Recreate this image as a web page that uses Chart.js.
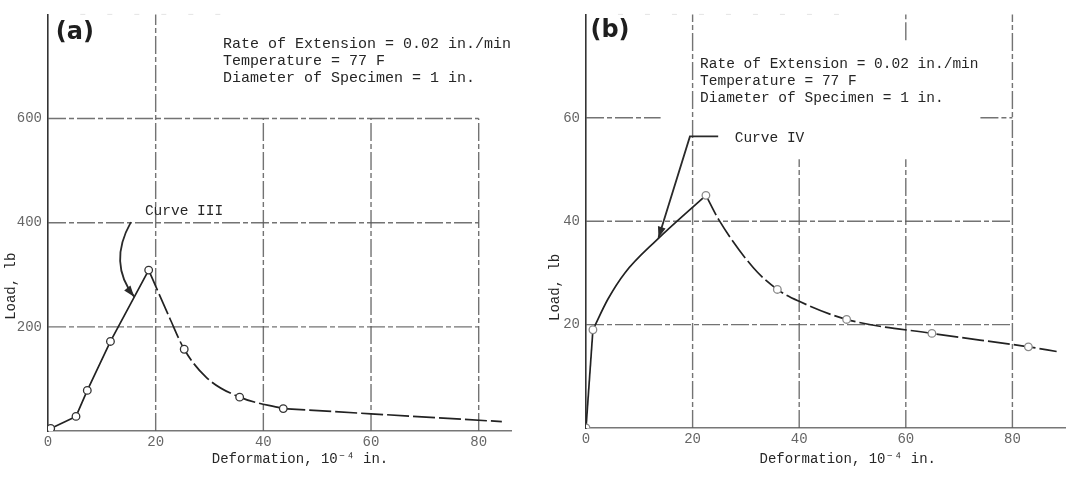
<!DOCTYPE html>
<html>
<head>
<meta charset="utf-8">
<script src="https://cdn.jsdelivr.net/npm/chart.js@4.4.0/dist/chart.umd.min.js"></script>
<style>
  html, body { margin: 0; padding: 0; background: #fff; }
  #wrap { position: relative; width: 1071px; height: 479px; overflow: hidden; }
  #panel-a { position: absolute; left: 0; top: 0; }
  #panel-b { position: absolute; left: 535px; top: 0; }
</style>
</head>
<body>
<div id="wrap">
  <canvas id="panel-a" width="535" height="479"></canvas>
  <canvas id="panel-b" width="536" height="479"></canvas>
</div>
<script>
// tick labels
const X_TICKS = [0, 20, 40, 60, 80];
const Y_TICKS_A = [200, 400, 600];
const Y_TICKS_B = [20, 40, 60];

// (a) Curve III - deformation (1e-4 in.) vs load (lb)
const stemA_x = [0.5, 5.2];
const stemA_y = [5, 28];
const riseA_x = [5.2, 7.3, 11.6, 18.7];
const riseA_y = [28, 78, 172, 309];
const fallA_x = [18.7, 22.6, 25.3, 29.4, 35.6, 43.7];
const fallA_y = [309, 217, 157, 103, 65, 43];
const tailA_x = [43.7, 60, 84.3];
const tailA_y = [43, 33, 18];
const dotsA_x = [0.5, 5.2, 7.3, 11.6, 18.7, 25.3, 35.6, 43.7];
const dotsA_y = [5, 28, 78, 172, 309, 157, 65, 43];

// (b) Curve IV
const stemB_x = [0, 1.3];
const stemB_y = [0, 19];
const riseB_x = [1.3, 4.1, 7.3, 13.2, 22.5];
const riseB_y = [19, 24.9, 30, 36.3, 45];
const fallB_x = [22.5, 24.9, 31.4, 35.9, 40, 48.9, 64.9, 83, 88.3];
const fallB_y = [45, 40.3, 31, 26.8, 24.5, 21, 18.3, 15.7, 14.8];
const tailB_x = [];
const tailB_y = [];
const dotsB_x = [0, 1.3, 22.5, 35.9, 48.9, 64.9, 83];
const dotsB_y = [0, 19, 45, 26.8, 21, 18.3, 15.7];

const INFO = ['Rate of Extension = 0.02 in./min', 'Temperature = 77 F', 'Diameter of Specimen = 1 in.'];
const X_TITLE = 'Deformation, 10\u207B\u2074 in.';
const Y_TITLE = 'Load, lb';

const MONO = '"Liberation Mono", "DejaVu Sans Mono", monospace';

function pts(xs, ys) { return xs.map((x, i) => ({ x: x, y: ys[i] })); }

function arrowHead(ctx, fx, fy, tx, ty) {
  const a = Math.atan2(ty - fy, tx - fx);
  const len = 11, w = 4;
  ctx.beginPath();
  ctx.moveTo(tx, ty);
  ctx.lineTo(tx - len * Math.cos(a) + w * Math.sin(a), ty - len * Math.sin(a) - w * Math.cos(a));
  ctx.lineTo(tx - len * Math.cos(a) - w * Math.sin(a), ty - len * Math.sin(a) + w * Math.cos(a));
  ctx.closePath();
  ctx.fill();
}

// draws the partial grid, the notes, the leader arrows and the axis titles
function sketch(cfg) {
  return {
    id: 'sketch',
    beforeDatasetsDraw(chart) {
      const ctx = chart.ctx, sx = chart.scales.x, sy = chart.scales.y;
      ctx.save();
      cfg.grid.forEach(g => {
        ctx.strokeStyle = g.faint ? 'rgba(150,150,150,0.25)' : 'rgba(90,90,90,0.85)';
        ctx.lineWidth = g.faint ? 1 : 1.4;
        ctx.setLineDash(g.faint ? [5, 22] : [18, 3, 5, 3]);
        ctx.beginPath();
        if (g.x !== undefined) {
          const px = sx.getPixelForValue(g.x);
          ctx.moveTo(px, sy.getPixelForValue(g.from));
          ctx.lineTo(px, sy.getPixelForValue(g.to));
        } else {
          const py = sy.getPixelForValue(g.y);
          ctx.moveTo(sx.getPixelForValue(g.from), py);
          ctx.lineTo(sx.getPixelForValue(g.to), py);
        }
        ctx.stroke();
      });
      ctx.restore();
    },
    afterDatasetsDraw(chart) {
      const ctx = chart.ctx, sx = chart.scales.x, sy = chart.scales.y;
      const P = p => [sx.getPixelForValue(p[0]), sy.getPixelForValue(p[1])];
      ctx.save();
      ctx.strokeStyle = '#2a2a2a';
      ctx.fillStyle = '#2a2a2a';
      ctx.lineWidth = 1.8;
      cfg.arrows.forEach(a => {
        const q = a.pts.map(P);
        ctx.beginPath();
        ctx.moveTo(q[0][0], q[0][1]);
        if (a.curve) ctx.quadraticCurveTo(q[1][0], q[1][1], q[2][0], q[2][1]);
        else q.slice(1).forEach(p => ctx.lineTo(p[0], p[1]));
        ctx.stroke();
        const n = q.length;
        arrowHead(ctx, q[n - 2][0], q[n - 2][1], q[n - 1][0], q[n - 1][1]);
      });
      cfg.texts.forEach(t => {
        const [px, py] = P(t.at);
        ctx.save();
        ctx.translate(px, py);
        if (t.rotate) ctx.rotate(t.rotate);
        ctx.font = t.font;
        ctx.fillStyle = t.color || '#262626';
        ctx.textAlign = t.align || 'left';
        ctx.textBaseline = 'middle';
        ctx.fillText(t.text, 0, 0);
        ctx.restore();
      });
      ctx.restore();
    }
  };
}

function curve(data, extra) {
  return Object.assign({
    data: data,
    showLine: true,
    borderColor: '#222',
    borderWidth: 1.7,
    pointRadius: 0
  }, extra);
}

function makePanel(id, o) {
  const fixed = (list) => (s) => { s.ticks = list.map(v => ({ value: v })); };
  new Chart(document.getElementById(id), {
    type: 'scatter',
    data: {
      datasets: [
        {
          data: pts(o.dotsX, o.dotsY),
          showLine: false,
          pointRadius: 3.8,
          pointBackgroundColor: '#fff',
          pointBorderColor: o.dotColor,
          pointBorderWidth: 1.3
        },
        curve(pts(o.stemX, o.stemY), { tension: 0 }),
        curve(pts(o.riseX, o.riseY), o.riseSmooth ? { cubicInterpolationMode: 'monotone' } : { tension: 0 }),
        curve(pts(o.fallX, o.fallY), { borderDash: [22, 4], cubicInterpolationMode: 'monotone' }),
        curve(pts(o.tailX, o.tailY), { borderDash: [22, 4], tension: 0 })
      ]
    },
    options: {
      responsive: false,
      animation: false,
      devicePixelRatio: 1,
      events: [],
      layout: { padding: o.pad },
      plugins: { legend: { display: false }, tooltip: { enabled: false } },
      scales: {
        x: {
          type: 'linear', min: 0, max: o.xMax,
          afterBuildTicks: fixed(X_TICKS),
          afterFit: s => { s.height = o.xH; },
          grid: { display: false, drawTicks: false },
          border: { display: true, color: '#777', width: 1.4 },
          ticks: { color: '#666', padding: 3, font: { family: MONO, size: 14 } }
        },
        y: {
          type: 'linear', min: 0, max: o.yMax,
          afterBuildTicks: fixed(o.yTicks),
          afterFit: s => { s.width = o.yW; },
          grid: { display: false, drawTicks: false },
          border: { display: true, color: '#333', width: 1.6 },
          ticks: { color: '#666', padding: 6, font: { family: MONO, size: 14 } }
        }
      }
    },
    plugins: [sketch(o.sketch)]
  });
}

makePanel('panel-a', {
  stemX: stemA_x, stemY: stemA_y,
  riseX: riseA_x, riseY: riseA_y, fallX: fallA_x, fallY: fallA_y,
  tailX: tailA_x, tailY: tailA_y,
  dotsX: dotsA_x, dotsY: dotsA_y, dotColor: '#333', riseSmooth: false,
  xMax: 86, yMax: 800, yTicks: Y_TICKS_A,
  pad: { left: 0, right: 24, top: 10, bottom: 0 }, xH: 48, yW: 48,
  sketch: {
    grid: [
      { x: 20, from: 0, to: 800 }, { x: 40, from: 0, to: 600 },
      { x: 60, from: 0, to: 600 }, { x: 80, from: 0, to: 600 },
      { y: 200, from: 0, to: 80 }, { y: 400, from: 0, to: 80 }, { y: 600, from: 0, to: 80 },
      { y: 800, from: 6, to: 36, faint: true }
    ],
    arrows: [{ curve: true, pts: [[15.4, 401], [11.1, 322], [16.0, 258]] }],
    texts: [
      { text: '(a)', at: [5.0, 764], font: 'bold 24px "DejaVu Sans"', align: 'center', color: '#1e1e1e' },
      { text: INFO[0], at: [32.5, 743], font: '15px ' + MONO },
      { text: INFO[1], at: [32.5, 710], font: '15px ' + MONO },
      { text: INFO[2], at: [32.5, 677], font: '15px ' + MONO },
      { text: 'Curve III', at: [18.0, 423], font: '14.5px ' + MONO },
      { text: X_TITLE, at: [46.8, -55], font: '14px ' + MONO, align: 'center' },
      { text: Y_TITLE, at: [-6.75, 278], font: '14px ' + MONO, align: 'center', rotate: -Math.PI / 2 }
    ]
  }
});

makePanel('panel-b', {
  stemX: stemB_x, stemY: stemB_y,
  riseX: riseB_x, riseY: riseB_y, fallX: fallB_x, fallY: fallB_y,
  tailX: tailB_x, tailY: tailB_y,
  dotsX: dotsB_x, dotsY: dotsB_y, dotColor: '#8a8a8a', riseSmooth: true,
  xMax: 90, yMax: 80, yTicks: Y_TICKS_B,
  pad: { left: 0, right: 5, top: 8, bottom: 0 }, xH: 51, yW: 51,
  sketch: {
    grid: [
      { x: 20, from: 0, to: 80 }, { x: 40, from: 0, to: 52 },
      { x: 60, from: 0, to: 52 }, { x: 60, from: 75, to: 80 }, { x: 80, from: 0, to: 80 },
      { y: 20, from: 0, to: 80 }, { y: 40, from: 0, to: 80 },
      { y: 60, from: 0, to: 14 }, { y: 60, from: 74, to: 80 },
      { y: 80, from: 6, to: 50, faint: true }
    ],
    arrows: [{ curve: false, pts: [[24.8, 56.4], [19.5, 56.4], [13.6, 36.8]] }],
    texts: [
      { text: '(b)', at: [4.5, 76.8], font: 'bold 24px "DejaVu Sans"', align: 'center', color: '#1e1e1e' },
      { text: INFO[0], at: [21.4, 70.4], font: '14.5px ' + MONO },
      { text: INFO[1], at: [21.4, 67.0], font: '14.5px ' + MONO },
      { text: INFO[2], at: [21.4, 63.75], font: '14.5px ' + MONO },
      { text: 'Curve IV', at: [27.9, 56.1], font: '14.5px ' + MONO },
      { text: X_TITLE, at: [49.1, -6.1], font: '14px ' + MONO, align: 'center' },
      { text: Y_TITLE, at: [-5.8, 27.2], font: '14px ' + MONO, align: 'center', rotate: -Math.PI / 2 }
    ]
  }
});
</script>
</body>
</html>
